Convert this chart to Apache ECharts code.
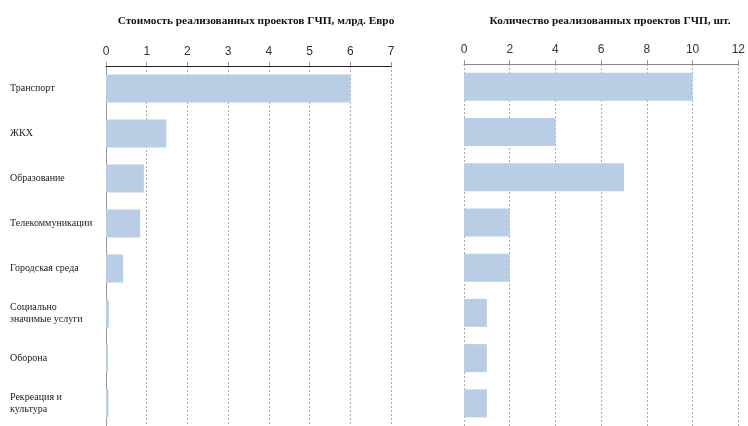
<!DOCTYPE html>
<html>
<head>
<meta charset="utf-8">
<script src="https://cdn.jsdelivr.net/npm/echarts@6/dist/echarts.min.js"></script>
<style>
  html, body { margin: 0; padding: 0; background: #fff; }
  #chart { width: 748px; height: 426px; }
</style>
</head>
<body>
<div id="chart"></div>
<script>
// Отрасли, в которых реализованы проекты ГЧП
const categories = [
  'Транспорт',
  'ЖКХ',
  'Образование',
  'Телекоммуникации',
  'Городская среда',
  'Социально\nзначимые услуги',
  'Оборона',
  'Рекреация и\nкультура'
];

// Стоимость проектов, млрд. евро
const costValues = [6.0, 1.48, 0.93, 0.84, 0.42, 0.07, 0.05, 0.06];

// Количество проектов, шт.
const countValues = [10, 4, 7, 2, 2, 1, 1, 1];

const titles = [
  'Стоимость реализованных проектов ГЧП, млрд. Евро',
  'Количество реализованных проектов ГЧП, шт.'
];

const barColor = '#b9cde5';
const serif = '"Liberation Serif", "DejaVu Serif", serif';
const narrow = '"Liberation Sans Narrow", "Liberation Sans", Arial, sans-serif';

function valueAxis(gridIndex, max, interval, lineColor) {
  return {
    type: 'value',
    gridIndex,
    position: 'top',
    min: 0,
    max,
    interval,
    axisLine: { show: true, lineStyle: { color: lineColor, width: 1 } },
    axisTick: { show: true, length: 4, lineStyle: { color: '#999' } },
    axisLabel: {
      margin: 8,
      color: '#333',
      fontFamily: narrow,
      fontSize: 12
    },
    splitLine: {
      show: true,
      lineStyle: { color: '#aaa', type: [2, 2], width: 1 }
    }
  };
}

const titleStyle = { fontFamily: serif, fontSize: 11.3, fontWeight: 'bold', color: '#111' };

const chart = echarts.init(document.getElementById('chart'), null, { renderer: 'canvas' });

chart.setOption({
  animation: false,
  backgroundColor: '#ffffff',
  title: [
    { text: titles[0], left: 251, top: 11, textAlign: 'center', textStyle: titleStyle },
    { text: titles[1], left: 605, top: 11, textAlign: 'center', textStyle: titleStyle }
  ],
  grid: [
    { left: 106, top: 66, width: 285, height: 365 },
    { left: 464, top: 64, width: 277, height: 365 }
  ],
  xAxis: [
    valueAxis(0, 7, 1, '#222'),
    valueAxis(1, 12, 2, '#888')
  ],
  yAxis: [
    {
      type: 'category',
      gridIndex: 0,
      inverse: true,
      data: categories,
      axisLine: { show: true, lineStyle: { color: '#999' } },
      axisTick: { show: false },
      axisLabel: {
        align: 'left',
        margin: 96,
        color: '#222',
        fontFamily: serif,
        fontSize: 10,
        lineHeight: 12
      }
    },
    {
      type: 'category',
      gridIndex: 1,
      inverse: true,
      data: categories,
      axisLine: { show: false },
      axisTick: { show: false },
      axisLabel: { show: false }
    }
  ],
  series: [
    {
      type: 'bar',
      xAxisIndex: 0,
      yAxisIndex: 0,
      data: costValues,
      barWidth: 28,
      itemStyle: { color: barColor },
      z: 3
    },
    {
      type: 'bar',
      xAxisIndex: 1,
      yAxisIndex: 1,
      data: countValues,
      barWidth: 28,
      itemStyle: { color: barColor },
      z: 3
    }
  ]
});
</script>
</body>
</html>
